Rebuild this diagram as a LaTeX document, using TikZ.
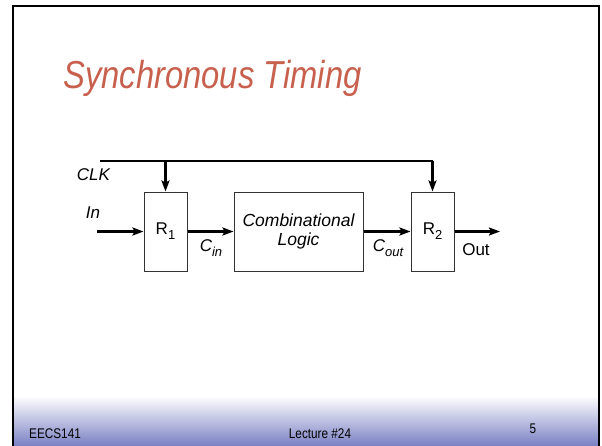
\documentclass[tikz,border=0pt]{standalone}
\usepackage{fontspec}
\setmainfont{Liberation Sans}
\newfontfamily\narrowfont[FakeStretch=0.84]{Liberation Sans}
\usetikzlibrary{arrows.meta,positioning}
\definecolor{titlered}{HTML}{C8604E}
\definecolor{footblue}{HTML}{7C82C4}
\definecolor{boxline}{HTML}{333333}
\newcommand{\lowidx}[1]{\raisebox{-0.28em}{\fontsize{13}{15}\selectfont #1}}

\begin{document}
\begin{tikzpicture}[x=1pt, y=-1pt,
  reg/.style={rectangle, draw=boxline, line width=1pt, minimum width=43pt, minimum height=79pt, inner sep=0pt, font=\fontsize{17}{20}\selectfont},
  lbl/.style={font=\fontsize{17}{20}\selectfont\itshape, inner sep=0pt},
  foot/.style={font=\fontsize{14}{16}\narrowfont, inner sep=0pt},
  wire/.style={line width=2.2pt},
  arr/.style={-{Stealth[length=11pt,width=8pt,inset=2pt]}, line width=2.2pt}
]
  \useasboundingbox (0,0) rectangle (602,445);
  % slide frame and footer band
  \shade[top color=white, bottom color=footblue] (14,396) rectangle (598,445);
  \draw[line width=2.5pt] (13,448) -- (13,6) -- (599,6) -- (599,448);
  \node[font=\fontsize{39}{44}\narrowfont\itshape, text=titlered, anchor=base west, inner sep=0pt] (title) at (63,88) {Synchronous Timing};
  \node[foot, anchor=base west] (course) at (29,438) {EECS141};
  \node[foot, anchor=base] (lecture) at (320,438) {Lecture \#24};
  \node[foot, anchor=base] (page) at (533,433) {5};
  % registers and logic
  \node[reg] (r1) at (165.5,231.5) {R\lowidx{1}};
  \node[reg, minimum width=129pt, font=\fontsize{17.5}{19.5}\selectfont\itshape, align=center] (logic) at (298.5,231.5) {Combinational\\Logic};
  \node[reg] (r2) at (432.5,231.5) {R\lowidx{2}};
  % clock
  \coordinate (clkin) at (100,161);
  \coordinate (clkturn) at (432.5,161);
  \coordinate (clktap) at (165.5,161);
  \draw[wire] (clkin) -- (clkturn);
  \draw[arr] (clkturn) -- (r2.north);
  \draw[arr] (clktap) -- (r1.north);
  % data path
  \coordinate (din) at (97,231.5);
  \coordinate (dout) at (500,231.5);
  \draw[arr] (din) -- (r1.west);
  \draw[arr] (r1.east) -- (logic.west);
  \draw[arr] (logic.east) -- (r2.west);
  \draw[arr] (r2.east) -- (dout);
  % labels
  \node[lbl] (clk) at (93.5,175) {CLK};
  \node[lbl] (inlbl) at (93,213) {In};
  \node[lbl] (cin) at (211,248) {C\lowidx{in}};
  \node[lbl] (cout) at (388,248) {C\lowidx{out}};
  \node[lbl, font=\fontsize{17}{20}\selectfont] (outlbl) at (476,250) {Out};
\end{tikzpicture}
\end{document}
